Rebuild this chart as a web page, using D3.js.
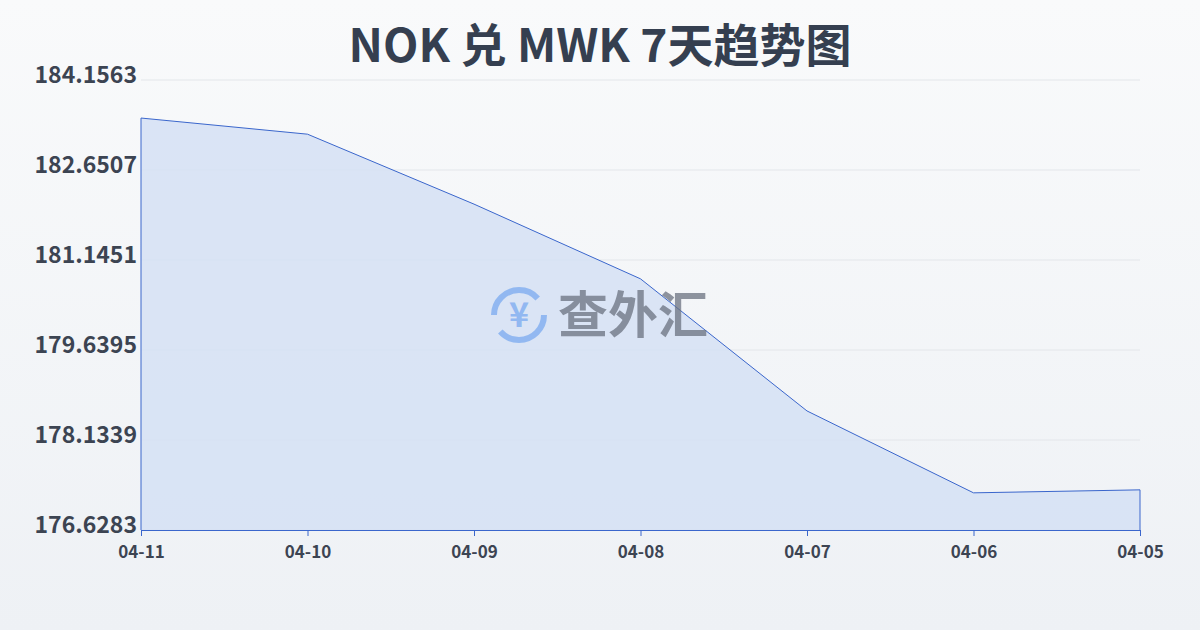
<!DOCTYPE html>
<html><head><meta charset="utf-8">
<script src="https://cdn.jsdelivr.net/npm/d3@7"></script>
<style>body{margin:0;}svg{display:block;}</style>
</head><body>
<svg id="chart" width="1200" height="630"></svg>
<script>
const dates = ["04-11", "04-10", "04-09", "04-08", "04-07", "04-06", "04-05"];
const rates = [183.52, 183.25, 182.08, 180.83, 178.62, 177.25, 177.30];
const yTicks = [176.6283, 178.1339, 179.6395, 181.1451, 182.6507, 184.1563];

const svg = d3.select("#chart");
const font = "'Noto Sans CJK SC', 'Noto Sans', sans-serif";

const defs = svg.append("defs");
const bg = defs.append("linearGradient").attr("id", "bg").attr("x1", 0).attr("y1", 0).attr("x2", 0).attr("y2", 1);
bg.append("stop").attr("offset", "0%").attr("stop-color", "#f9fafb");
bg.append("stop").attr("offset", "100%").attr("stop-color", "#eef1f5");
svg.append("rect").attr("width", 1200).attr("height", 630).attr("fill", "url(#bg)");

const x = d3.scalePoint().domain(dates).range([141, 1140]);
const y = d3.scaleLinear().domain([yTicks[0], yTicks[yTicks.length - 1]]).range([530, 80]);

// grid
svg.append("g").selectAll("line").data(yTicks).join("line")
  .attr("x1", 141).attr("x2", 1140)
  .attr("y1", d => y(d)).attr("y2", d => y(d))
  .attr("stroke", "#e3e6ea").attr("stroke-width", 1);

const area = d3.area().x((d, i) => x(dates[i])).y0(y(yTicks[0])).y1(d => y(d));
svg.append("path").datum(rates).attr("d", area).attr("fill", "#d5e0f5").attr("fill-opacity", 0.85);
const line = d3.line().x((d, i) => x(dates[i])).y(d => y(d));
svg.append("path").datum(rates).attr("d", line).attr("fill", "none").attr("stroke", "#3a66cc").attr("stroke-width", 1);
// area side edges
svg.append("line").attr("x1", x(dates[0])).attr("x2", x(dates[0])).attr("y1", y(rates[0])).attr("y2", 530).attr("stroke", "#3a66cc");
svg.append("line").attr("x1", x(dates[6])).attr("x2", x(dates[6])).attr("y1", y(rates[6])).attr("y2", 530).attr("stroke", "#3a66cc");

// axes
const xAxis = svg.append("g").attr("transform", "translate(0,530)").call(d3.axisBottom(x).tickSize(6));
xAxis.select(".domain").attr("stroke", "#3a66cc");
xAxis.selectAll(".tick line").attr("stroke", "#3a66cc");
xAxis.selectAll("text").attr("font-family", font).attr("font-size", 17).attr("font-weight", "bold")
  .attr("fill", "#3c4452").attr("dy", "1.1em");

const yAxis = svg.append("g").attr("transform", "translate(141,0)").call(d3.axisLeft(y).tickValues(yTicks).tickSize(0).tickFormat(d3.format(".4f")));
yAxis.select(".domain").remove();
yAxis.selectAll("text").attr("font-family", font).attr("font-size", 23).attr("font-weight", 600)
  .attr("fill", "#3c4452").attr("x", -4).attr("dy", "0.12em");

// watermark
const wm = svg.append("g").attr("opacity", 0.75);
wm.append("circle").attr("cx", 519).attr("cy", 315).attr("r", 25).attr("fill", "none").attr("stroke", "#7aaaf0").attr("stroke-width", 6).attr("stroke-dasharray", "60 18");
wm.append("text").attr("x", 519).attr("y", 327).attr("text-anchor", "middle").attr("font-family", font).attr("font-size", 34).attr("font-weight", "bold").attr("fill", "#7aaaf0").text("¥");
wm.append("text").attr("x", 558).attr("y", 333).attr("font-family", font).attr("font-size", 50).attr("font-weight", "bold").attr("fill", "#6b7280").text("查外汇");

svg.append("text").attr("x", 600).attr("y", 62).attr("text-anchor", "middle")
  .attr("font-family", font).attr("font-size", 46).attr("font-weight", "bold").attr("fill", "#353f50")
  .text("NOK 兑 MWK 7天趋势图");
</script>
</body></html>
